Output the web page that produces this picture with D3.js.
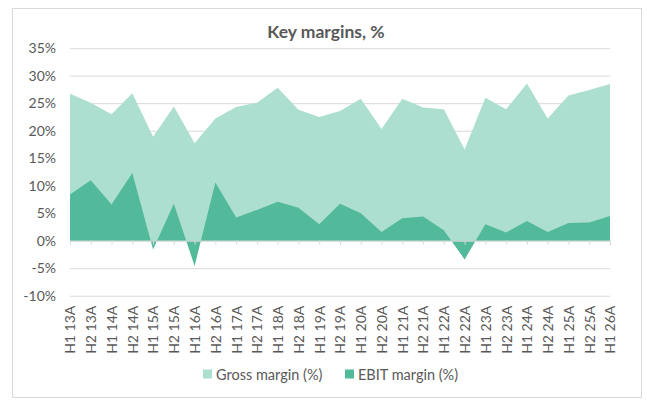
<!DOCTYPE html>
<html>
<head>
<meta charset="utf-8">
<script src="https://cdn.jsdelivr.net/npm/d3@7"></script>
<style>
  body { margin: 0; background: #fff; }
  svg { font-family: Lato, "Open Sans", sans-serif; }
</style>
</head>
<body>
<div id="chart"></div>
<script>
// half-year periods, H1 2013 .. H1 2026
const periods = [
  'H1 13A', 'H2 13A', 'H1 14A', 'H2 14A', 'H1 15A', 'H2 15A', 'H1 16A', 'H2 16A',
  'H1 17A', 'H2 17A', 'H1 18A', 'H2 18A', 'H1 19A', 'H2 19A', 'H1 20A', 'H2 20A',
  'H1 21A', 'H2 21A', 'H1 22A', 'H2 22A', 'H1 23A', 'H2 23A', 'H1 24A', 'H2 24A',
  'H1 25A', 'H2 25A', 'H1 26A'
];
const grossMargin = [
  26.7, 25.1, 23.0, 26.8, 18.9, 24.4, 17.7, 22.2,
  24.3, 25.1, 27.8, 23.8, 22.5, 23.6, 25.8, 20.3,
  25.8, 24.2, 23.9, 16.6, 26.0, 23.9, 28.6, 22.2,
  26.4, 27.4, 28.5
];
const ebitMargin = [
  8.4, 11.0, 6.6, 12.3, -1.6, 6.7, -4.6, 10.6,
  4.2, 5.6, 7.1, 6.0, 3.0, 6.7, 5.0, 1.6,
  4.1, 4.4, 1.9, -3.4, 3.0, 1.5, 3.6, 1.6,
  3.2, 3.3, 4.5
];
const yTicks = [-10, -5, 0, 5, 10, 15, 20, 25, 30, 35];
const seriesNames = ['Gross margin (%)', 'EBIT margin (%)'];

const width = 647, height = 401;
const colors = ['#acdfcf', '#52b99b'];
const grid = '#d9d9d9', textCol = '#595959';

const svg = d3.select('#chart').append('svg')
  .attr('width', width)
  .attr('height', height);

svg.append('rect')
  .attr('x', 12.5).attr('y', 8.5)
  .attr('width', 629).attr('height', 389)
  .attr('fill', '#fff')
  .attr('stroke', grid);

svg.append('text')
  .attr('x', 326).attr('y', 38)
  .attr('text-anchor', 'middle')
  .attr('font-size', 17.5)
  .attr('font-weight', 'bold')
  .attr('fill', textCol)
  .text('Key margins, %');

const x = d3.scalePoint().domain(periods).range([70, 610]);
const y = d3.scaleLinear().domain([-10, 35]).range([295.7, 48.2]);

// gridlines + y labels
const yAxis = svg.append('g')
  .attr('transform', 'translate(70,0)')
  .call(d3.axisLeft(y).tickValues(yTicks).tickSize(-540).tickPadding(14)
    .tickFormat(d => d + '%'));
yAxis.select('.domain').remove();
yAxis.selectAll('line').attr('stroke', grid);
yAxis.selectAll('text').attr('fill', textCol).attr('font-size', 14)
  .attr('font-family', 'Lato, sans-serif');

const area = vals => d3.area()
  .x((d, i) => x(periods[i]))
  .y0(y(0))
  .y1(d => y(d))(vals);

svg.append('path').attr('d', area(grossMargin)).attr('fill', colors[0]);
svg.append('path').attr('d', area(ebitMargin)).attr('fill', colors[1]);

// category axis at zero
const xAxis = svg.append('g')
  .attr('transform', `translate(0,${y(0)})`)
  .call(d3.axisBottom(x).tickSize(4).tickFormat(''));
xAxis.selectAll('line, path').attr('stroke', grid);

// labels at the bottom of the plot
const xLab = svg.append('g')
  .attr('transform', `translate(0,${y(-10)})`)
  .call(d3.axisBottom(x).tickSize(0));
xLab.select('.domain').remove();
xLab.selectAll('text')
  .attr('transform', 'rotate(-90)')
  .attr('x', -10).attr('y', 0).attr('dy', '0.35em')
  .attr('text-anchor', 'end')
  .attr('fill', textCol)
  .attr('font-size', 14)
  .attr('font-family', 'Lato, sans-serif');

// legend
const legend = svg.append('g');
const legX = [203, 345];
seriesNames.forEach((name, i) => {
  legend.append('rect')
    .attr('x', legX[i]).attr('y', 369.5)
    .attr('width', 9).attr('height', 9)
    .attr('fill', colors[i]);
  legend.append('text')
    .attr('x', legX[i] + 13).attr('y', 379.5)
    .attr('font-size', 14.5)
    .attr('fill', textCol)
    .text(name);
});
</script>
</body>
</html>
